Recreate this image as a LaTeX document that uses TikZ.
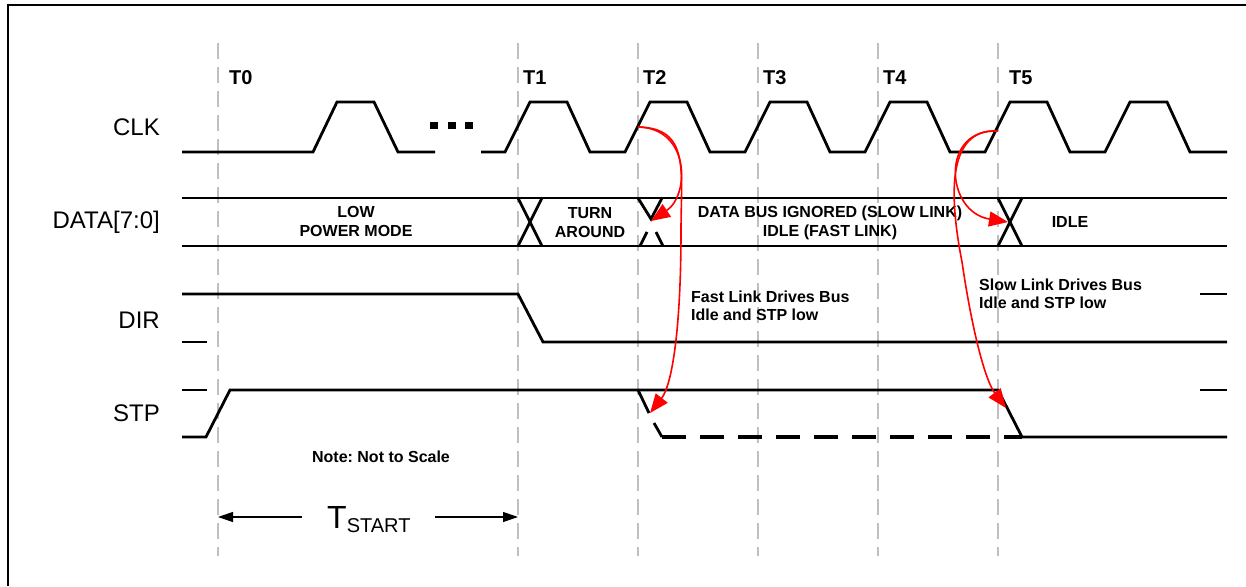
\documentclass[tikz,border=0pt]{standalone}
\usepackage{fontspec}
\setmainfont{Liberation Sans}
\usetikzlibrary{arrows.meta}
\frenchspacing
\begin{document}
\begin{tikzpicture}[x=1pt,y=-1pt,
  sig/.style={line width=2.8pt, line join=miter},
  tick/.style={black!25, line width=2.8pt, dash pattern=on 16pt off 8pt},
  redarr/.style={red, line width=1.6pt, -{Triangle[length=19pt,width=15pt]}},
  siglbl/.style={anchor=east, inner sep=0pt, font=\fontsize{24}{24}\selectfont},
  tlbl/.style={anchor=west, inner sep=0pt, font=\bfseries\fontsize{20}{20}\selectfont},
  bustxt/.style={align=center, inner sep=0pt, font=\bfseries\fontsize{16}{19}\selectfont},
  notetxt/.style={align=left, anchor=west, inner sep=0pt, font=\bfseries\fontsize{16}{18.5}\selectfont},
  dimarr/.style={line width=1.2pt, -{Triangle[length=15pt,width=10pt]}}]
\useasboundingbox (0,0) rectangle (1246,586);
% frame
\draw[line width=2.2pt] (8,586) -- (8,5) -- (1246,5);
% time grid
\foreach \x in {218,518,638,758,878,998} \draw[tick] (\x,43) -- (\x,556);
% time labels
\node[tlbl] (t0) at (229,77.5) {T0};
\node[tlbl] (t1) at (523,77.5) {T1};
\node[tlbl] (t2) at (643,77.5) {T2};
\node[tlbl] (t3) at (763,77.5) {T3};
\node[tlbl] (t4) at (883,77.5) {T4};
\node[tlbl] (t5) at (1009,77.5) {T5};
% signal labels
\node[siglbl] (clk) at (160,127) {CLK};
\node[siglbl] (data) at (160,222) {DATA[7:0]};
\node[siglbl] (dir) at (160,320) {DIR};
\node[siglbl] (stp) at (160,413) {STP};
% CLK
\draw[sig] (182,152) -- (313,152) -- (337,102) -- (374,102) -- (398,152) -- (435,152);
\fill (430,122) rectangle (438,129);
\fill (448,122) rectangle (456,129);
\fill (465,122) rectangle (473,129);
\draw[sig] (481,152) foreach \t in {518,638,758,878,998,1118} { -- ({\t-13},152) -- ({\t+12},102) -- ({\t+49},102) -- ({\t+72},152) } -- (1227,152);
% DATA bus
\draw[sig] (182,198) -- (1227,198);
\draw[sig] (182,246) -- (1227,246);
\draw[sig] (518,198) -- (542,246);
\draw[sig] (542,198) -- (518,246);
\draw[sig] (638,198) -- (651,219) -- (662,198);
\draw[sig] (640,246) -- (647,232);
\draw[sig] (663,246) -- (656,232);
\draw[sig] (998,198) -- (1022,246);
\draw[sig] (1022,198) -- (998,246);
\node[bustxt] (lpm) at (356,221.5) {LOW\\POWER MODE};
\node[bustxt] (ta) at (590,222.5) {TURN\\AROUND};
\node[bustxt] (ign) at (830,222.5) {DATA BUS IGNORED (SLOW LINK)\\IDLE (FAST LINK)};
\node[bustxt] (idle) at (1070,222) {IDLE};
% DIR
\draw[sig] (182,342) -- (207,342);
\draw[sig] (182,294) -- (518,294) -- (543,342) -- (1227,342);
\draw[sig] (1200,294) -- (1227,294);
% STP
\draw[sig] (182,390) -- (207,390);
\draw[sig] (182,437) -- (206,437) -- (230,390) -- (998,390) -- (1022,437) -- (1227,437);
\draw[sig] (1200,390) -- (1227,390);
\draw[sig] (638,390) -- (649,413);
\draw[sig] (654,423) -- (662,437);
\draw[sig, line width=3.2pt, dash pattern=on 24pt off 14pt] (662,437) -- (1022,437);
% notes
\node[notetxt] (fast) at (691,306) {Fast Link Drives Bus\\Idle and STP low};
\node[notetxt] (slow) at (979,294) {Slow Link Drives Bus\\Idle and STP low};
\node[bustxt] (nts) at (381,457) {Note: Not to Scale};
% red causal arrows
\coordinate (e2) at (638,127);
\coordinate (x2) at (651,221);
\coordinate (s2) at (650,413);
\coordinate (e5) at (998,131);
\coordinate (x5) at (1008,222);
\coordinate (s5) at (1006,408);
\draw[redarr] (e2) .. controls (690,128) and (690,195) .. (x2);
\draw[redarr] (e2) .. controls (690,128) and (681,170) .. (681,230) .. controls (681,330) and (672,385) .. (s2);
\draw[redarr] (e5) .. controls (940,128) and (945,212) .. (x5);
\draw[redarr] (e5) .. controls (945,128) and (950,200) .. (962,262) .. controls (972,330) and (985,380) .. (s5);
% T_START
\node[inner sep=0pt, anchor=base west] (tstart) at (327,528) {\fontsize{32}{32}\selectfont T\raisebox{-4pt}{\fontsize{20}{20}\selectfont START}};
\coordinate (la) at (302,517);
\coordinate (ra) at (435,517);
\coordinate (lb) at (218,517);
\coordinate (rb) at (518,517);
\draw[dimarr] (la) -- (lb);
\draw[dimarr] (ra) -- (rb);
\end{tikzpicture}
\end{document}
